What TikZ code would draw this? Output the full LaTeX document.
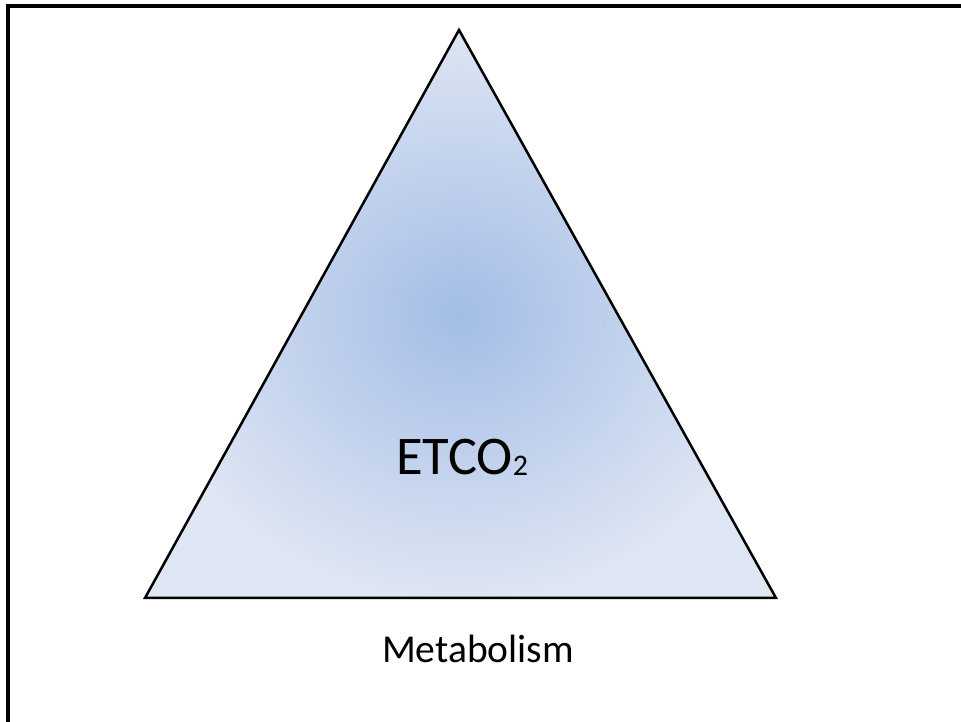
\documentclass[tikz,border=0pt]{standalone}
\usepackage{fontspec}
\setmainfont{Carlito}
\usetikzlibrary{positioning}

\definecolor{triin}{RGB}{163,189,230}
\definecolor{triout}{RGB}{222,229,243}

\begin{document}
\begin{tikzpicture}[x=0.02cm,y=-0.02cm,
  frame/.style={line width=0.07cm,black},
  triline/.style={line width=0.05cm,black,line join=miter},
  label/.style={inner sep=0pt,anchor=base}]

\useasboundingbox (0,0) rectangle (961,722);

% outer frame (only top and left edges show)
\coordinate (fbl) at (8,722);
\coordinate (ftr) at (961,6);
\draw[frame] (fbl) |- (ftr);

% triangle
\coordinate (apex) at (459,30);
\coordinate (bl) at (145,598);
\coordinate (br) at (776,598);
\shade[inner color=triin,outer color=triout] (apex) -- (bl) -- (br) -- cycle;
\draw[triline] (apex) -- (bl) -- (br) -- cycle;

\node[label,font=\fontsize{31}{36}\selectfont] (etco) at (462,475)
  {ETCO\raisebox{-0.3pt}{\fontsize{17}{20}\selectfont 2}};
\node[label,font=\fontsize{22.5}{26}\selectfont] (metab) at (478,663) {Metabolism};

\end{tikzpicture}
\end{document}
